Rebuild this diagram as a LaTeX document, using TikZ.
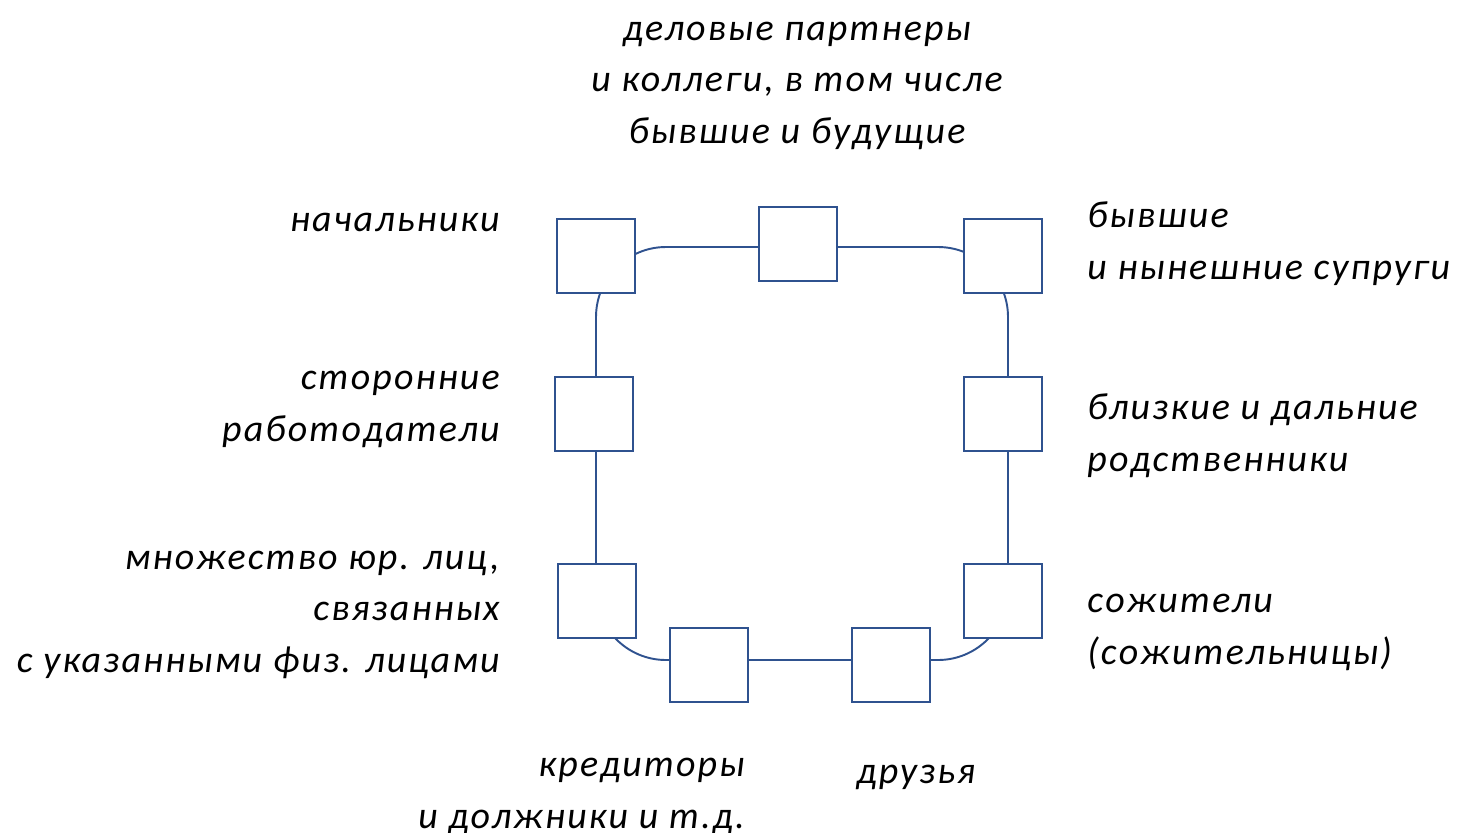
\documentclass[tikz,border=0pt]{standalone}
\usepackage{fontspec}
\setmainfont{Carlito}
\newfontfamily\lblfont[LetterSpace=5.6]{Carlito}
\tikzstyle{unit}=[rectangle,draw=linkblue,fill=white,line width=1.1pt,minimum width=1.56cm,minimum height=1.48cm,inner sep=0pt]
\tikzstyle{link}=[draw=linkblue,line width=1.1pt,rounded corners=1.4cm]
\tikzstyle{lbl}=[font=\lblfont\itshape\fontsize{21.6}{29.2}\selectfont,inner sep=0pt]
\definecolor{linkblue}{RGB}{47,82,143}

\begin{document}
\begin{tikzpicture}[x=0.02cm,y=-0.02cm]
	\useasboundingbox (0,0) rectangle (1463,832);
	% corners of the loop
	\coordinate (nw) at (596,247);
	\coordinate (ne) at (1008,247);
	\coordinate (se) at (1008,660);
	\coordinate (sw) at (596,660);
	\draw [link] (nw) -- (ne) -- (se) -- (sw) -- cycle;

	\node [unit] (boss)     at (596,256) {};
	\node [unit] (partner)  at (798,244) {};
	\node [unit] (spouse)   at (1003,256) {};
	\node [unit] (employer) at (594,414) {};
	\node [unit] (relative) at (1003,414) {};
	\node [unit] (entity)   at (597,601) {};
	\node [unit] (creditor) at (709,665) {};
	\node [unit] (friend)   at (891,665) {};
	\node [unit] (partner2) at (1003,601) {};

	% labels, anchored at the baseline of their last line
	\node [lbl,align=center,anchor=base]      (tpartner)  at (797,143)  {деловые партнеры\\и коллеги, в том числе\\бывшие и будущие};
	\node [lbl,anchor=base east]              (tboss)     at (500,231)  {начальники};
	\node [lbl,align=right,anchor=base east]  (temployer) at (500,441)  {сторонние\\работодатели};
	\node [lbl,align=right,anchor=base east]  (tentity)   at (500,672)  {множество юр. лиц,\\связанных\\с указанными физ. лицами};
	\node [lbl,align=left,anchor=base west]   (tspouse)   at (1087,279) {бывшие\\и нынешние супруги};
	\node [lbl,align=left,anchor=base west]   (trelative) at (1087,471) {близкие и дальние\\родственники};
	\node [lbl,align=left,anchor=base west]   (tpartner2) at (1087,664) {сожители\\(сожительницы)};
	\node [lbl,align=right,anchor=base east]  (tcreditor) at (745,828)  {кредиторы\\и должники и т.д.};
	\node [lbl,anchor=base]                   (tfriend)   at (916,783)  {друзья};
\end{tikzpicture}
\end{document}
